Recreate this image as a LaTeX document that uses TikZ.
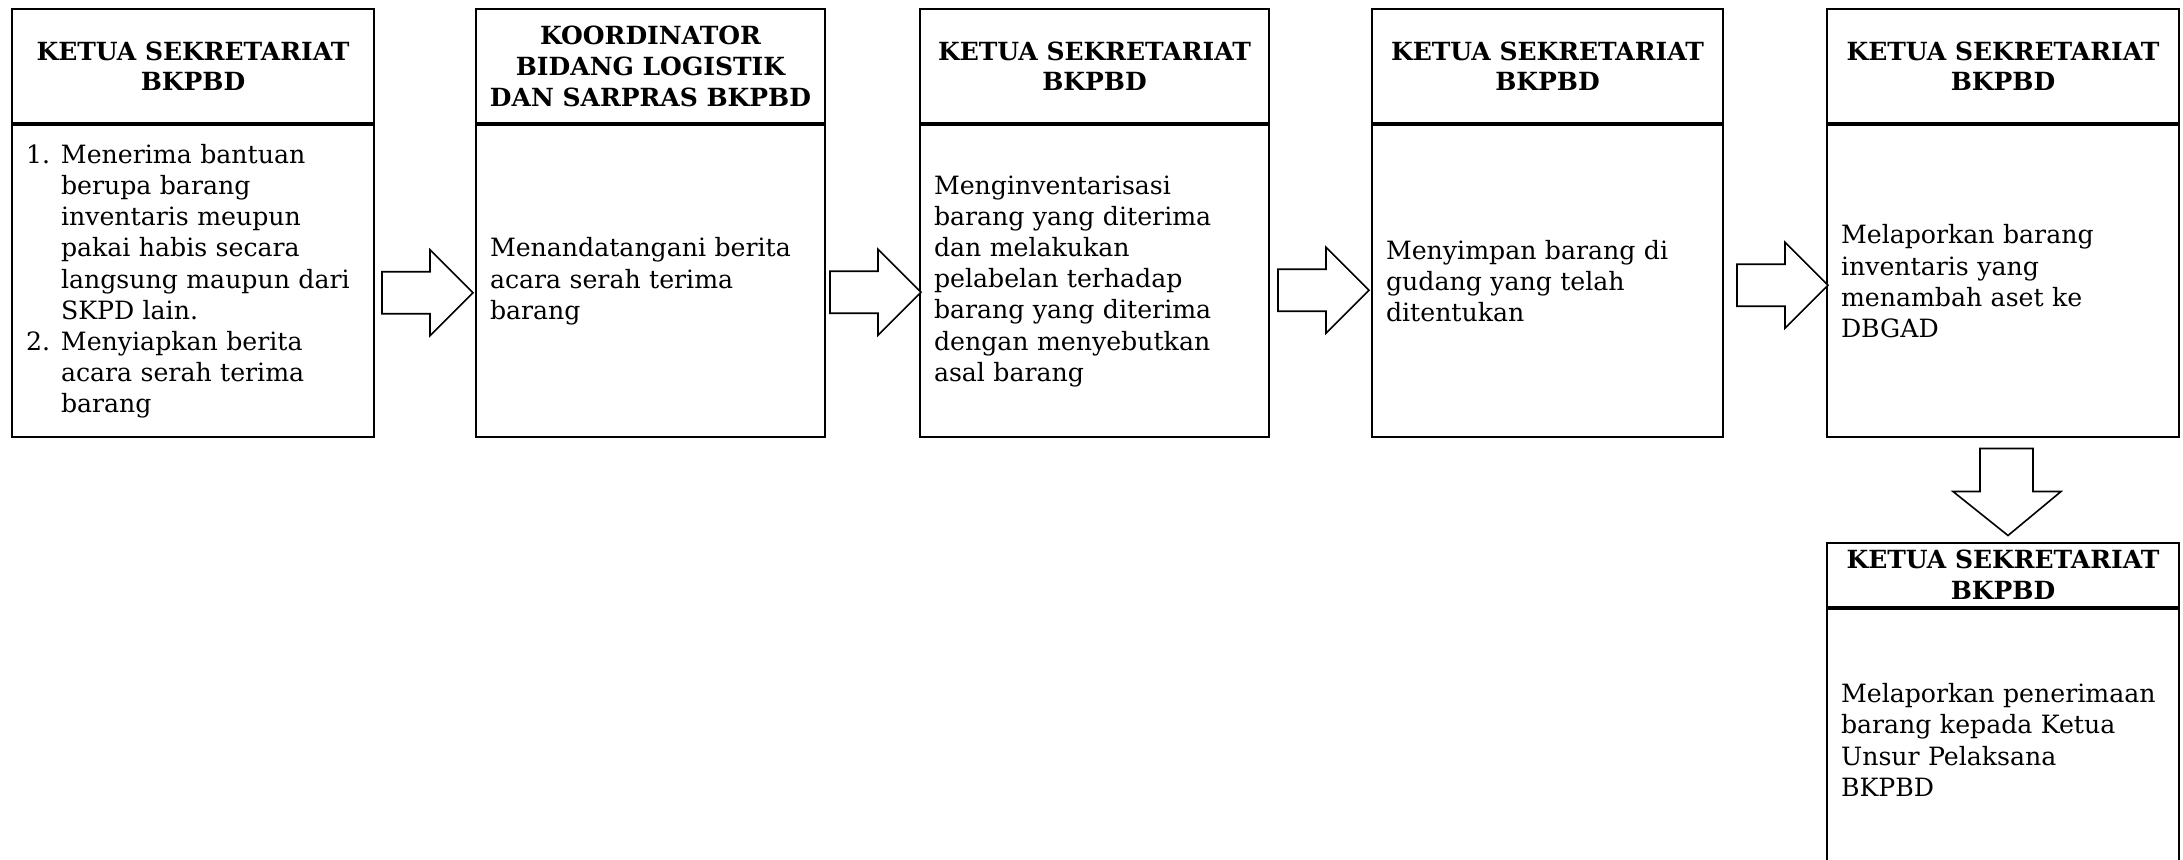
\documentclass[tikz,border=0pt]{standalone}
\usepackage{fontspec}
\setmainfont{DejaVu Serif}
\usetikzlibrary{calc}
\tikzset{
  box/.style={draw, line width=1pt, inner xsep=7pt, inner ysep=0pt, anchor=north west},
  hdr/.style={box, inner xsep=0pt, align=center, font={\fontsize{12.5}{15.4}\selectfont\bfseries}},
  bodytxt/.style={box, align=left, font={\fontsize{12.6}{15.6}\selectfont}},
  barrow/.style={draw, line width=0.8pt, line join=miter, fill=white},
}
\newcommand\arrowR[1]{\draw[barrow] (#1) -- ++(-43,-43) -- ++(0,22) -- ++(-48,0) -- ++(0,42) -- ++(48,0) -- ++(0,22) -- cycle;}
\newcommand\numlbl[1]{\makebox[17.5pt][l]{#1}}
\newcommand\numind{\hspace*{17.5pt}}
\begin{document}
\hyphenpenalty=10000
\exhyphenpenalty=10000
\begin{tikzpicture}[x=0.5pt,y=-0.5pt]
\clip (0,0) rectangle (2183,860);
% box 1
\node[hdr, minimum width=181pt, minimum height=57.25pt] (h1) at (11,8) {KETUA SEKRETARIAT\\BKPBD};
\node[bodytxt, minimum width=181pt, minimum height=155.75pt, text width=167pt] (t1) at (h1.south west)
 {\numlbl{1.}Menerima bantuan\\
  \numind berupa barang\\
  \numind inventaris meupun\\
  \numind pakai habis secara\\
  \numind langsung maupun dari\\
  \numind SKPD lain.\\
  \numlbl{2.}Menyiapkan berita\\
  \numind acara serah terima\\
  \numind barang};
% box 2
\node[hdr, minimum width=174.5pt, minimum height=57.25pt] (h2) at (475,8) {KOORDINATOR\\BIDANG LOGISTIK\\DAN SARPRAS BKPBD};
\node[bodytxt, minimum width=174.5pt, minimum height=155.75pt, text width=160.5pt] (t2) at (h2.south west)
 {Menandatangani berita\\acara serah terima\\barang};
% box 3
\node[hdr, minimum width=174.5pt, minimum height=57.25pt] (h3) at (919,8) {KETUA SEKRETARIAT\\BKPBD};
\node[bodytxt, minimum width=174.5pt, minimum height=155.75pt, text width=160.5pt] (t3) at (h3.south west)
 {Menginventarisasi\\barang yang diterima\\dan melakukan\\pelabelan terhadap\\barang yang diterima\\dengan menyebutkan\\asal barang};
% box 4
\node[hdr, minimum width=175.5pt, minimum height=57.25pt] (h4) at (1371,8) {KETUA SEKRETARIAT\\BKPBD};
\node[bodytxt, minimum width=175.5pt, minimum height=155.75pt, text width=161.5pt] (t4) at (h4.south west)
 {Menyimpan barang di\\gudang yang telah\\ditentukan};
% box 5
\node[hdr, minimum width=176pt, minimum height=57.25pt] (h5) at (1826,8) {KETUA SEKRETARIAT\\BKPBD};
\node[bodytxt, minimum width=176pt, minimum height=155.75pt, text width=162pt] (t5) at (h5.south west)
 {Melaporkan barang\\inventaris yang\\menambah aset ke\\DBGAD};
% box 6
\node[hdr, minimum width=176pt, minimum height=32pt] (h6) at (1826,541.5) {KETUA SEKRETARIAT\\BKPBD};
\node[bodytxt, minimum width=176pt, minimum height=131.5pt, text width=162pt] (t6) at (h6.south west)
 {Melaporkan penerimaan\\barang kepada Ketua\\Unsur Pelaksana\\BKPBD};
% arrows
\coordinate (a1) at ($(t2.west)+(-2,11.5)$);
\coordinate (a2) at ($(t3.west)+(2,11)$);
\coordinate (a3) at ($(t4.west)+(-2,9)$);
\coordinate (a4) at ($(t5.west)+(2,4)$);
\arrowR{a1}
\arrowR{a2}
\arrowR{a3}
\arrowR{a4}
\coordinate (d1) at ($(h6.north)+(5,-6)$);
\draw[barrow] (d1) -- ++(-55,-44) -- ++(27,0) -- ++(0,-43) -- ++(53,0) -- ++(0,43) -- ++(28,0) -- cycle;
\end{tikzpicture}
\end{document}
